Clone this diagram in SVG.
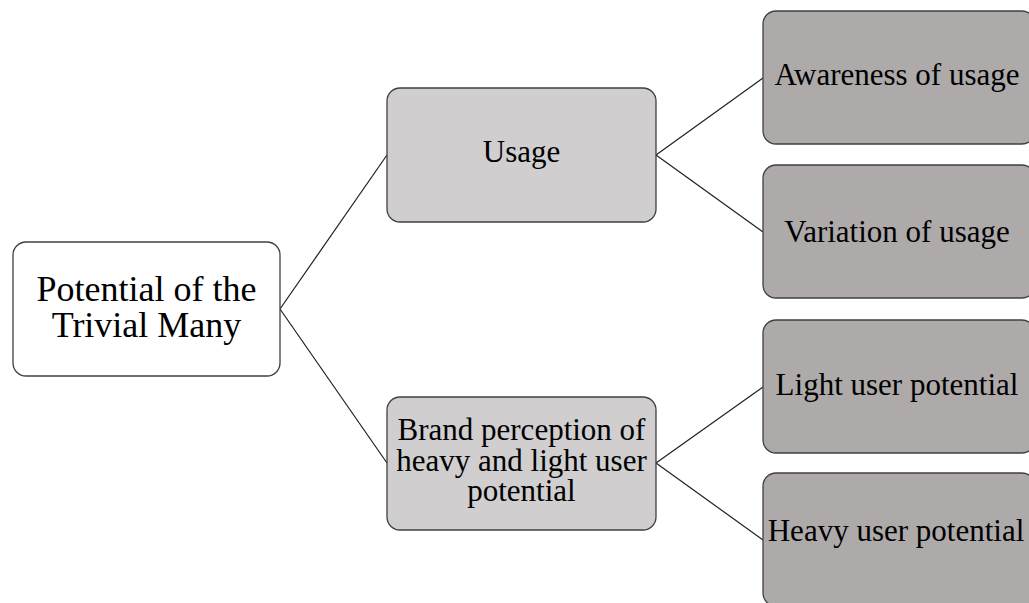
<svg xmlns="http://www.w3.org/2000/svg" width="1029" height="603" viewBox="0 0 1029 603">
<style>
.n rect{stroke:#404040;stroke-width:1.3}
.root rect{fill:#ffffff}
.mid rect{fill:#d0cecf}
.leaf rect{fill:#aeaaaa}
text{font-family:"Liberation Serif","Times New Roman",serif;fill:#000;text-anchor:middle;font-size:31px}
#connectors line{stroke:#202020;stroke-width:1.2}
</style>
<rect width="1029" height="603" fill="#ffffff"/>
<g id="connectors">
<line x1="280" y1="309" x2="387" y2="155"/>
<line x1="280" y1="309" x2="387" y2="463"/>
<line x1="656" y1="155" x2="763" y2="78"/>
<line x1="656" y1="155" x2="763" y2="232"/>
<line x1="656" y1="463" x2="763" y2="387"/>
<line x1="656" y1="463" x2="763" y2="540"/>
</g>
<g id="root" class="n root">
<rect x="13" y="242" width="267" height="134" rx="13"/>
<text x="146.5" y="301" style="font-size:36px">Potential of the</text>
<text x="146.5" y="337" style="font-size:36px">Trivial Many</text>
</g>
<g id="usage" class="n mid">
<rect x="387" y="88" width="269" height="134" rx="13"/>
<text x="521.5" y="162">Usage</text>
</g>
<g id="brand" class="n mid">
<rect x="387" y="397" width="269" height="133" rx="13"/>
<text x="521.5" y="440">Brand perception of</text>
<text x="521.5" y="471">heavy and light user</text>
<text x="521.5" y="501">potential</text>
</g>
<g id="awareness" class="n leaf">
<rect x="763" y="11" width="272" height="133" rx="13"/>
<text x="897" y="85">Awareness of usage</text>
</g>
<g id="variation" class="n leaf">
<rect x="763" y="165" width="272" height="133" rx="13"/>
<text x="897" y="242">Variation of usage</text>
</g>
<g id="light" class="n leaf">
<rect x="763" y="320" width="272" height="133" rx="13"/>
<text x="897" y="395">Light user potential</text>
</g>
<g id="heavy" class="n leaf">
<rect x="763" y="473" width="272" height="133" rx="13"/>
<text x="896" y="541">Heavy user potential</text>
</g>
</svg>
